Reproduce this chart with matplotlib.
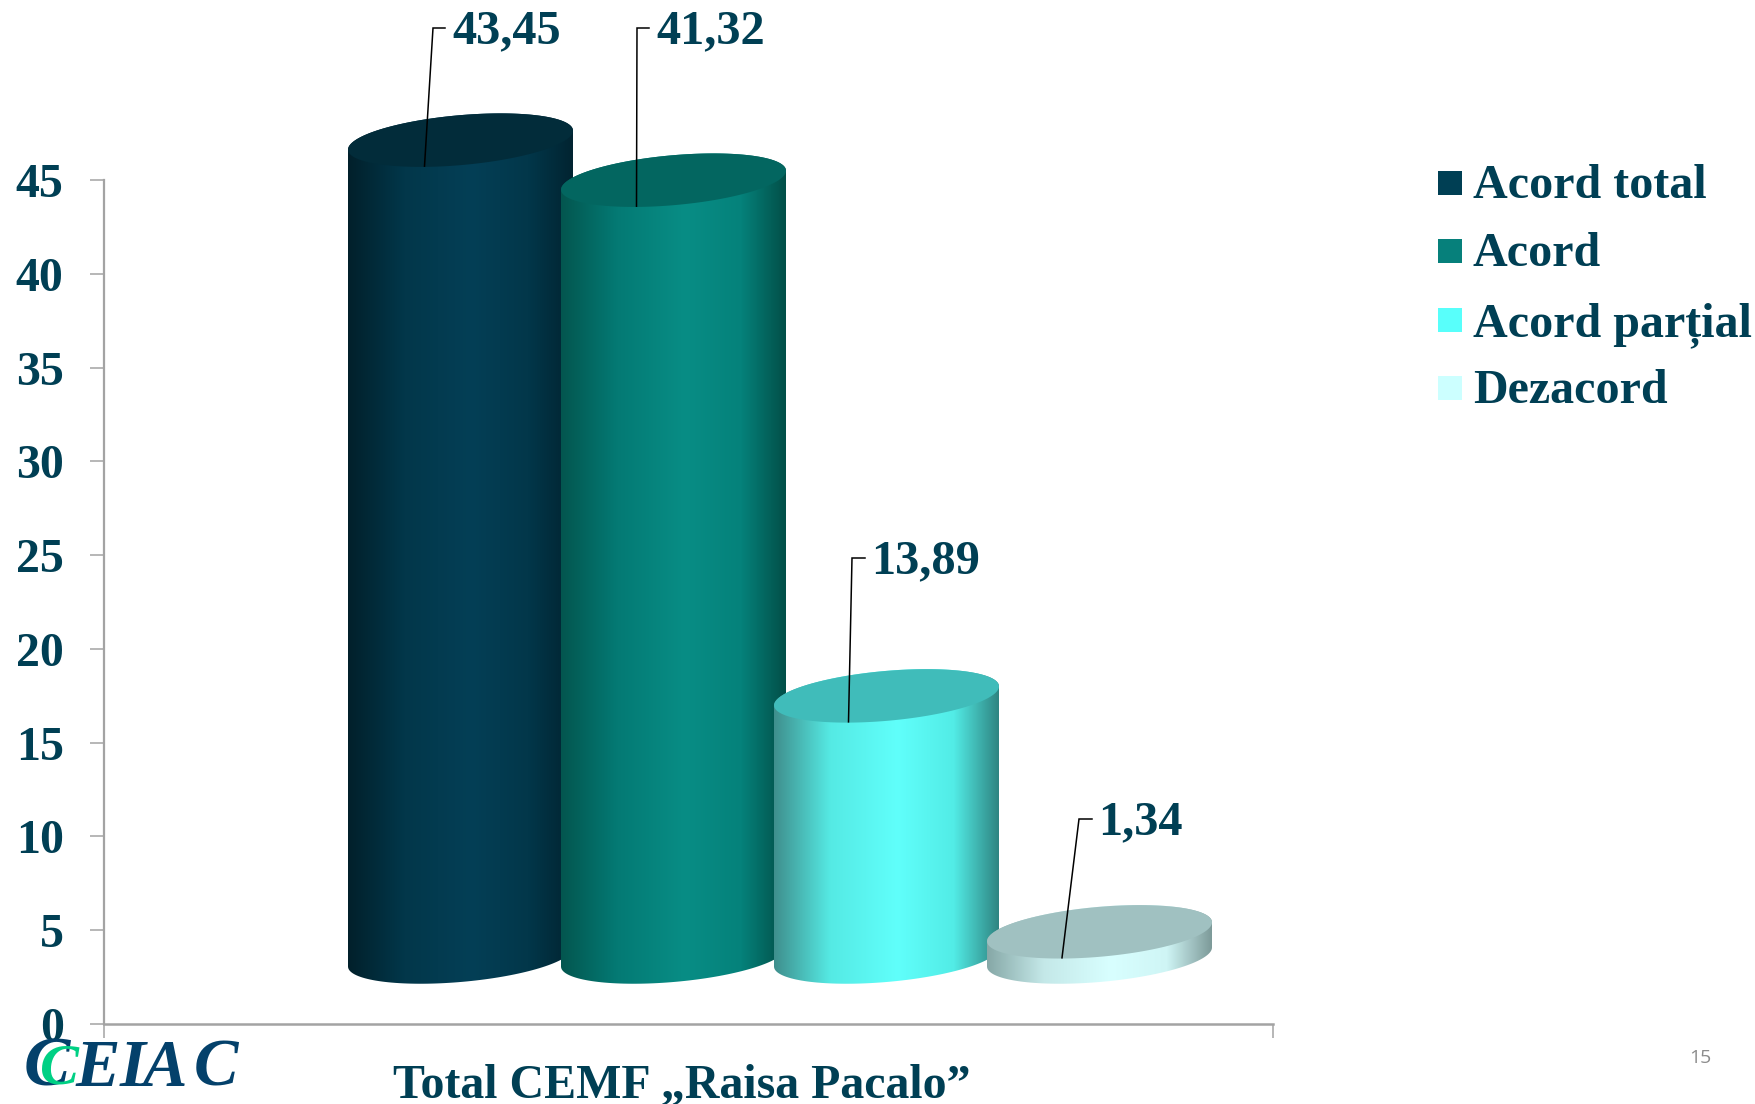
import matplotlib
matplotlib.use("Agg")
import matplotlib.pyplot as plt
from matplotlib.colors import LinearSegmentedColormap
from matplotlib.patches import Polygon, Rectangle
import numpy as np

plt.rcParams["font.family"] = ["Liberation Serif", "DejaVu Serif"]

categories = ["Acord total", "Acord", "Acord parțial", "Dezacord"]
values = [43.45, 41.32, 13.89, 1.34]
value_labels = ["43,45", "41,32", "13,89", "1,34"]
y_ticks = [0, 5, 10, 15, 20, 25, 30, 35, 40, 45]
x_title = "Total CEMF „Raisa Pacalo”"

TEXT = "#003f54"
AXIS = "#a3a3a3"
swatch = ["#003f54", "#06807b", "#58fffb", "#ccffff"]
tops = ["#022c3a", "#036660", "#40bcba", "#a0c1c1"]
shades = [
    ["#01202b", "#02374a", "#043f56", "#02374a", "#012431"],
    ["#03564f", "#047a74", "#088d85", "#05827b", "#024f48"],
    ["#3f8f8d", "#55eae4", "#60fffb", "#52ece6", "#2f8582"],
    ["#86a8a7", "#c4e8e8", "#d8ffff", "#cff5f5", "#7d9a99"],
]
shade_stops = [0, 0.25, 0.55, 0.8, 1]

W, H = 1756, 1104
fig = plt.figure(figsize=(W / 100, H / 100), dpi=100, facecolor="white")

# axes box in pixels of the slide
left, right, y_zero, y_45 = 104, 1273, 1024, 180
ax = fig.add_axes([left / W, 1 - y_zero / H, (right - left) / W, (y_zero - y_45) / H])

step = 213.0  # px between cylinder centres
first = 460.5
xlim = ((left - first) / step, (right - first) / step)
ylim = (0, 45)
ppu = (y_zero - y_45) / 45.0

half_w = 112.5 / step
ell_b = 25.0 / ppu
ell_k = 9.5 / ppu
base = (y_zero - 957) / ppu
# the 3d columns run very slightly taller than the flat axis scale
stretch = 18.8 / ppu


def to_data(px, py):
    return (px - first) / step, (y_zero - py) / ppu


def ellipse(xc, yc, t):
    return xc + half_w * np.cos(t), yc + ell_k * np.cos(t) + ell_b * np.sin(t)


for i, (val, top, cols) in enumerate(zip(values, tops, shades)):
    y_top = base + val * stretch
    t_low = np.linspace(np.pi, 2 * np.pi, 80)
    t_up = np.linspace(0, np.pi, 80)
    bx, by = ellipse(i, base, t_low)
    tx, ty = ellipse(i, y_top, t_up)
    outline = np.column_stack([np.r_[bx, tx], np.r_[by, ty]])

    cmap = LinearSegmentedColormap.from_list(f"c{i}", list(zip(shade_stops, cols)))
    grad = np.linspace(0, 1, 256).reshape(1, -1)
    im = ax.imshow(
        grad,
        cmap=cmap,
        aspect="auto",
        extent=(i - half_w, i + half_w, base - 3, y_top + 3),
        zorder=2 + i,
        interpolation="bilinear",
    )
    body = Polygon(outline, closed=True, transform=ax.transData)
    im.set_clip_box(fig.bbox)
    im.set_clip_path(body)

    ex, ey = ellipse(i, y_top, np.linspace(0, 2 * np.pi, 160))
    ax.fill(ex, ey, color=top, lw=0, zorder=2 + i + 0.5, clip_on=False)

ax.set_xlim(xlim)
ax.set_ylim(ylim)

# leader lines and value labels
leader_dx = [-36, -37, -38, -37.5]
elbows = [(433, 28), (637, 28), (852, 558), (1079, 819)]
ends = [445, 649, 865, 1092]
text_x = [452, 656, 871, 1098]
for i, val in enumerate(values):
    y_top = base + val * stretch
    start_x = i + leader_dx[i] / step
    start_y = y_top - ell_b - 1.0 / ppu
    ex, ey = to_data(*elbows[i])
    end_x, _ = to_data(ends[i], 0)
    ax.plot([start_x, ex, end_x], [start_y, ey, ey], color="black", lw=1.1,
            zorder=10, clip_on=False, solid_joinstyle="miter")
    fig.text(text_x[i] / W, 1 - (elbows[i][1] + 15.5) / H, value_labels[i], fontsize=34.8,
             fontweight="bold", color=TEXT, ha="left", va="baseline", zorder=11)

# axes styling
for side in ["top", "right"]:
    ax.spines[side].set_visible(False)
ax.spines["left"].set(color=AXIS, linewidth=1.6)
ax.spines["bottom"].set(color=AXIS, linewidth=1.8)
ax.patch.set_alpha(0)
ax.set_yticks(y_ticks)
ax.tick_params(axis="y", length=10, width=1.1, color=AXIS, pad=19, labelsize=34.5,
               labelcolor=TEXT)
for lab in ax.get_yticklabels():
    lab.set_fontweight("bold")
ax.set_xticks(list(xlim))
ax.set_xticklabels([])
ax.tick_params(axis="x", length=10, width=1.1, color=AXIS)

# hand placed legend, the rows are not evenly spaced
sw_top = [171, 239, 308, 376]
baselines = [198, 266, 336, 403]
for name, col, st, bl in zip(categories, swatch, sw_top, baselines):
    fig.add_artist(Rectangle((1438 / W, 1 - (st + 24) / H), 24 / W, 24 / H,
                             transform=fig.transFigure, color=col, lw=0))
    fig.text(1473 / W, 1 - bl / H, name, fontsize=34.6, fontweight="bold", color=TEXT,
             ha="left", va="baseline")

fig.text(393 / W, 1 - 1097 / H, x_title, fontsize=34.5, fontweight="bold", color=TEXT,
         ha="left", va="baseline")

# logo, letters placed one by one because the original is stretched
LOGO = "#04416b"
logo_kw = dict(fontweight="bold", style="italic", ha="left", va="baseline")
fig.text(24 / W, 1 - 1086 / H, "C", fontsize=50, color=LOGO, **logo_kw)
fig.text(40 / W, 1 - 1083 / H, "C", fontsize=42, color="#00d084", **logo_kw)
fig.text(75 / W, 1 - 1086 / H, "E", fontsize=48, color=LOGO, **logo_kw)
fig.text(120 / W, 1 - 1086 / H, "I", fontsize=48, color=LOGO, **logo_kw)
fig.text(142 / W, 1 - 1086 / H, "A", fontsize=48, color=LOGO, **logo_kw)
fig.text(194 / W, 1 - 1086 / H, "C", fontsize=48, color=LOGO, **logo_kw)

fig.text(1700 / W, 1 - 1058 / H, "15", fontsize=14, color="#8c8c8c", family="Open Sans",
         ha="center", va="center")

fig.savefig("out.png", dpi=100, facecolor="white")
